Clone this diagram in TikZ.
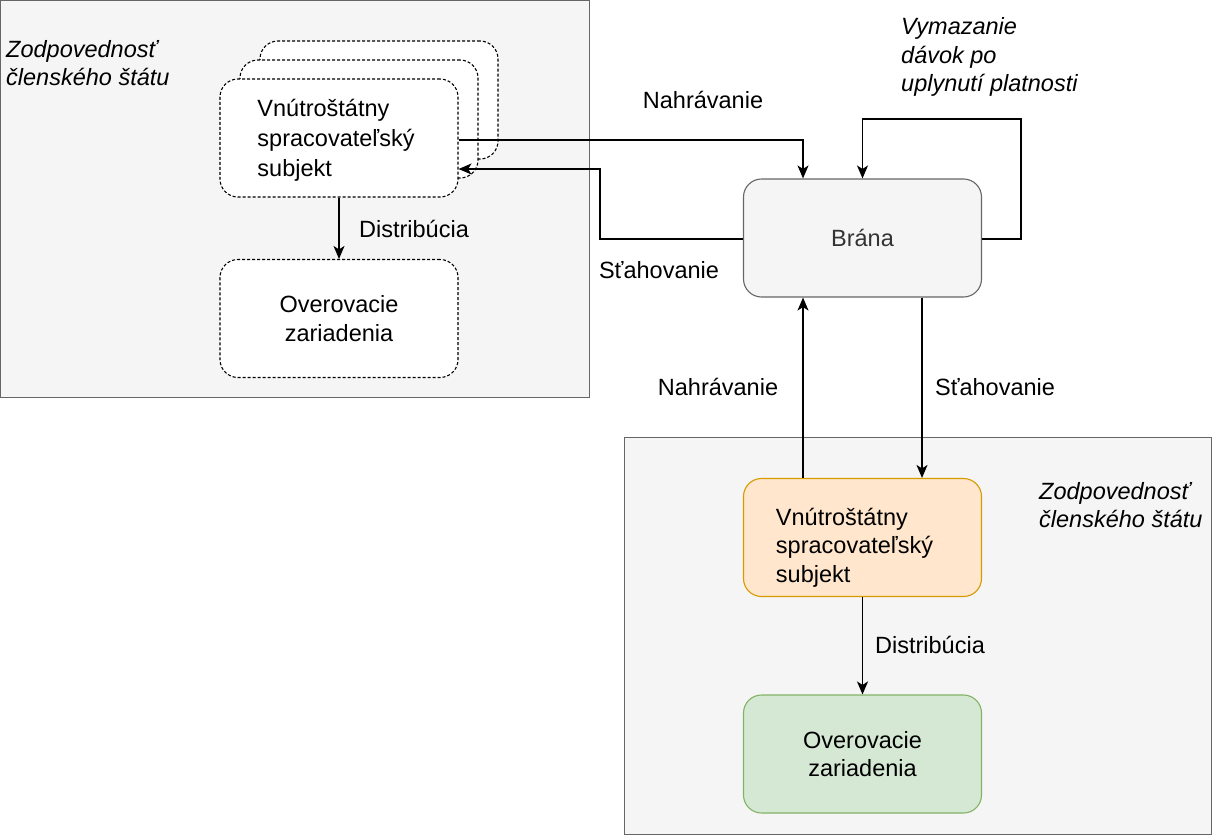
\documentclass[tikz,border=0pt]{standalone}
\usepackage{fontspec}
\setmainfont{Liberation Sans}
\usetikzlibrary{arrows.meta}
\definecolor{contfill}{HTML}{F5F5F5}
\definecolor{contline}{HTML}{666666}
\definecolor{orfill}{HTML}{FFE6CC}
\definecolor{orline}{HTML}{D79B00}
\definecolor{grfill}{HTML}{D5E8D4}
\definecolor{grline}{HTML}{82B366}
\definecolor{txtgray}{HTML}{333333}
\tikzset{
  every node/.style={font=\fontsize{23.5}{28.5}\selectfont, inner sep=0pt},
  container/.style={draw=contline, fill=contfill, line width=1pt},
  boxbase/.style={rounded corners=18pt, minimum width=238pt, minimum height=118pt, line width=1.1pt},
  dashbox/.style={boxbase, draw=black, fill=white, dash pattern=on 3pt off 2pt},
  gatebox/.style={boxbase, draw=contline, fill=contfill, text=txtgray},
  orbox/.style={boxbase, draw=orline, fill=orfill},
  grbox/.style={boxbase, draw=grline, fill=grfill},
  conn/.style={line width=1.3pt, -{Stealth[length=13pt,width=11pt,inset=3.5pt]}},
  lbl/.style={},
  boxtext/.style={align=left},
  itlbl/.style={font=\fontsize{23.5}{28.5}\selectfont\itshape, align=left, anchor=west},
}
\begin{document}
\begin{tikzpicture}[x=1pt,y=-1pt]
\useasboundingbox (0,0) rectangle (1212,835);
% containers
\draw[container] (0.5,0.5) rectangle (589,397);
\draw[container] (624,437) rectangle (1211,834);
\node[itlbl] (respA) at (6,63) {Zodpovednosť\\členského štátu};
\node[itlbl] (respB) at (1039,505) {Zodpovednosť\\členského štátu};
% stacked dashed boxes
\node[dashbox] (back) at (379,100) {};
\node[dashbox] (mid) at (359,119) {};
\node[dashbox] (front) at (339,138) {};
\node[boxtext, font=\fontsize{23.5}{30}\selectfont] (frontTxt) at ([xshift=-3pt,yshift=-2pt]front.center) {Vnútroštátny\\spracovateľský\\subjekt};
\node[dashbox, align=center] (verA) at (339,318.5) {Overovacie\\zariadenia};
% gateway
\node[gatebox] (brana) at (862.5,238) {Brána};
% bottom boxes
\node[orbox] (natB) at (862.5,537.5) {};
\node[boxtext] (natBTxt) at ([xshift=-8pt,yshift=-10pt]natB.center) {Vnútroštátny\\spracovateľský\\subjekt};
\node[grbox, align=center] (verB) at (862.5,754) {Overovacie\\zariadenia};
% connectors
\draw[conn] (front.south) -- (verA.north);
\node[lbl] (distA) at (414,229) {Distribúcia};
\draw[conn] ([yshift=-2pt]front.east) -| ([xshift=-59.5pt]brana.north);
\node[lbl] (upA) at (703,100) {Nahrávanie};
\coordinate (dnA) at (600,239);
\draw[conn] ([yshift=-1pt]brana.west) -- (dnA) |- ([yshift=-31pt]front.east);
\node[lbl] (dlA) at (659,270) {Sťahovanie};
\coordinate (loopR) at (1021,119);
\draw[conn] ([yshift=-1pt]brana.east) -| (loopR) -| (brana.north);
\node[itlbl] (del) at (901,57) {Vymazanie\\dávok po\\uplynutí platnosti};
\draw[conn] ([xshift=-59.5pt]natB.north) -- ([xshift=-59.5pt]brana.south);
\node[lbl] (upB) at (718,387) {Nahrávanie};
\draw[conn] ([xshift=59.5pt]brana.south) -- ([xshift=59.5pt]natB.north);
\node[lbl] (dlB) at (995,387) {Sťahovanie};
\draw[conn] (natB.south) -- (verB.north);
\node[lbl] (distB) at (930,645) {Distribúcia};
\end{tikzpicture}
\end{document}
